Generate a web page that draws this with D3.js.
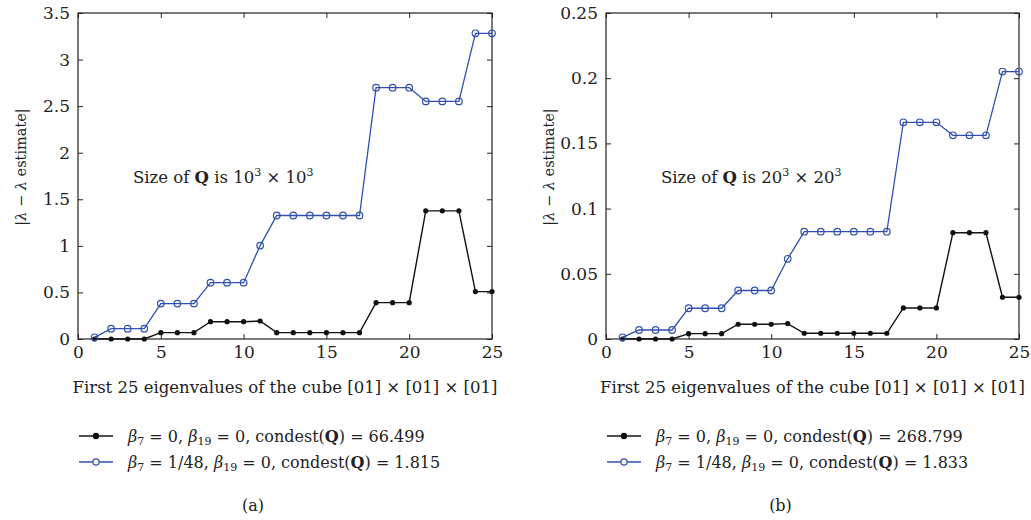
<!DOCTYPE html>
<html>
<head>
<meta charset="utf-8">
<script src="https://cdn.jsdelivr.net/npm/d3@7"></script>
<style>
  body { margin: 0; background: #fff; }
  svg text { font-family: "DejaVu Serif", "Liberation Serif", serif; fill: #222; }
</style>
</head>
<body>
<svg id="chart" width="1031" height="520"></svg>
<script>
// eigenvalue index (x axis)
const eigIndex = [1,2,3,4,5,6,7,8,9,10,11,12,13,14,15,16,17,18,19,20,21,22,23,24,25];
const xTicks = [0, 5, 10, 15, 20, 25];

// panel (a): Q is 10^3 x 10^3
const aBeta0 = [0,0,0,0,0.068,0.068,0.068,0.186,0.186,0.186,0.193,0.068,0.068,0.068,0.068,0.068,0.068,0.39,0.39,0.39,1.376,1.376,1.376,0.509,0.509];
const aBeta7 = [0.018,0.111,0.111,0.111,0.38,0.38,0.38,0.605,0.605,0.605,1.003,1.326,1.326,1.326,1.326,1.326,1.326,2.698,2.698,2.698,2.551,2.551,2.551,3.282,3.282];
const aYTicks = [0, 0.5, 1, 1.5, 2, 2.5, 3, 3.5];
const aCondest = ['66.499', '1.815'];

// panel (b): Q is 20^3 x 20^3
const bBeta0 = [0,0,0,0,0.0041,0.0041,0.0041,0.0113,0.0113,0.0113,0.0118,0.0044,0.0044,0.0044,0.0044,0.0044,0.0044,0.0238,0.0238,0.0238,0.0815,0.0815,0.0815,0.032,0.032];
const bBeta7 = [0.0013,0.0069,0.0069,0.0069,0.0236,0.0236,0.0236,0.0372,0.0372,0.0372,0.0615,0.0823,0.0823,0.0823,0.0823,0.0823,0.0823,0.1662,0.1662,0.1662,0.1562,0.1562,0.1562,0.2051,0.2051];
const bYTicks = [0, 0.05, 0.1, 0.15, 0.2, 0.25];
const bCondest = ['268.799', '1.833'];

const blue = '#3050b0';
const svg = d3.select('#chart');

drawPanel({ left: 78, right: 492, base: '10', ymax: 3.5, yTicks: aYTicks,
  black: aBeta0, blueData: aBeta7, condest: aCondest, tag: '(a)', noteX: 133, ylabX: 21 });
drawPanel({ left: 606, right: 1019, base: '20', ymax: 0.25, yTicks: bYTicks,
  black: bBeta0, blueData: bBeta7, condest: bCondest, tag: '(b)', noteX: 661, ylabX: 549 });

function styleAxis(a) {
  a.attr('font-family', null).attr('font-size', null);
  a.select('.domain').remove();
  a.selectAll('text').attr('font-size', 17);
  a.selectAll('.tick line').attr('stroke', '#222');
}

function drawPanel(p) {
  const top = 13, bottom = 339;
  const g = svg.append('g');

  const x = d3.scaleLinear().domain([0, 25]).range([p.left, p.right]);
  const y = d3.scaleLinear().domain([0, p.ymax]).range([bottom, top]);

  // axes, ticks inward on all four sides
  g.append('g').attr('transform', `translate(0,${bottom})`)
    .call(d3.axisBottom(x).tickValues(xTicks).tickSizeInner(-5).tickSizeOuter(0).tickPadding(7).tickFormat(d3.format('d')))
    .call(styleAxis);
  g.append('g').attr('transform', `translate(0,${top})`)
    .call(d3.axisTop(x).tickValues(xTicks).tickSizeInner(-5).tickSizeOuter(0).tickFormat(''))
    .call(styleAxis);
  g.append('g').attr('transform', `translate(${p.left},0)`)
    .call(d3.axisLeft(y).tickValues(p.yTicks).tickSizeInner(-5).tickSizeOuter(0).tickPadding(8).tickFormat(d => String(+d.toFixed(3))))
    .call(styleAxis);
  g.append('g').attr('transform', `translate(${p.right},0)`)
    .call(d3.axisRight(y).tickValues(p.yTicks).tickSizeInner(-5).tickSizeOuter(0).tickFormat(''))
    .call(styleAxis);

  g.append('rect')
    .attr('x', p.left).attr('y', top)
    .attr('width', p.right - p.left).attr('height', bottom - top)
    .attr('fill', 'none').attr('stroke', '#222').attr('stroke-width', 1.2);

  const line = d3.line().x((d, i) => x(eigIndex[i])).y(d => y(d));

  // black series
  g.append('path').datum(p.black)
    .attr('fill', 'none').attr('stroke', '#111').attr('stroke-width', 1.4).attr('d', line);
  g.selectAll('.dot0').data(p.black).enter().append('circle')
    .attr('cx', (d, i) => x(eigIndex[i])).attr('cy', d => y(d))
    .attr('r', 2.6).attr('fill', '#111');

  // blue series
  g.append('path').datum(p.blueData)
    .attr('fill', 'none').attr('stroke', blue).attr('stroke-width', 1.3).attr('d', line);
  g.selectAll('.dot7').data(p.blueData).enter().append('circle')
    .attr('cx', (d, i) => x(eigIndex[i])).attr('cy', d => y(d))
    .attr('r', 3.3).attr('fill', 'none').attr('stroke', blue).attr('stroke-width', 1.2);

  // annotation
  const note = g.append('text').attr('x', p.noteX).attr('y', 183).attr('font-size', 16.5);
  note.append('tspan').text('Size of ');
  note.append('tspan').attr('font-weight', 'bold').text('Q');
  note.append('tspan').text(' is ' + p.base);
  note.append('tspan').attr('dy', -7).attr('font-size', 11).text('3');
  note.append('tspan').attr('dy', 7).text(' × ' + p.base);
  note.append('tspan').attr('dy', -7).attr('font-size', 11).text('3');

  // y label
  const yl = g.append('text')
    .attr('transform', `translate(${p.ylabX},167) rotate(-90)`)
    .attr('text-anchor', 'middle').attr('dy', '0.35em').attr('font-size', 14.5);
  yl.append('tspan').text('|');
  yl.append('tspan').attr('font-style', 'italic').text('λ');
  yl.append('tspan').text(' − ');
  yl.append('tspan').attr('font-style', 'italic').text('λ');
  yl.append('tspan').text(' estimate|');

  // x label
  g.append('text')
    .attr('x', (p.left + p.right) / 2).attr('y', 393)
    .attr('text-anchor', 'middle').attr('font-size', 16.5)
    .text('First 25 eigenvalues of the cube [01] × [01] × [01]');

  // legend
  const lx = p.left + 1;
  const legendRows = [
    { color: '#111', filled: true, beta7: '0', cond: p.condest[0] },
    { color: blue, filled: false, beta7: '1/48', cond: p.condest[1] }
  ];
  legendRows.forEach((r, i) => {
    const ly = 436 + i * 26;
    g.append('line').attr('x1', lx).attr('x2', lx + 34).attr('y1', ly).attr('y2', ly)
      .attr('stroke', r.color).attr('stroke-width', 1.4);
    g.append('circle').attr('cx', lx + 17).attr('cy', ly)
      .attr('r', r.filled ? 2.6 : 3.1)
      .attr('fill', r.filled ? r.color : '#fff')
      .attr('stroke', r.color).attr('stroke-width', 1.2);
    const t = g.append('text').attr('x', lx + 49).attr('y', ly + 6).attr('font-size', 16);
    t.append('tspan').attr('font-style', 'italic').text('β');
    t.append('tspan').attr('dy', 3).attr('font-size', 11).text('7');
    t.append('tspan').attr('dy', -3).text(' = ' + r.beta7 + ', ');
    t.append('tspan').attr('font-style', 'italic').text('β');
    t.append('tspan').attr('dy', 3).attr('font-size', 11).text('19');
    t.append('tspan').attr('dy', -3).text(' = 0, condest(');
    t.append('tspan').attr('font-weight', 'bold').text('Q');
    t.append('tspan').text(') = ' + r.cond);
  });

  // panel tag
  g.append('text')
    .attr('x', (p.left + p.right) / 2 - 32).attr('y', 511)
    .attr('text-anchor', 'middle').attr('font-size', 16)
    .text(p.tag);
}
</script>
</body>
</html>
